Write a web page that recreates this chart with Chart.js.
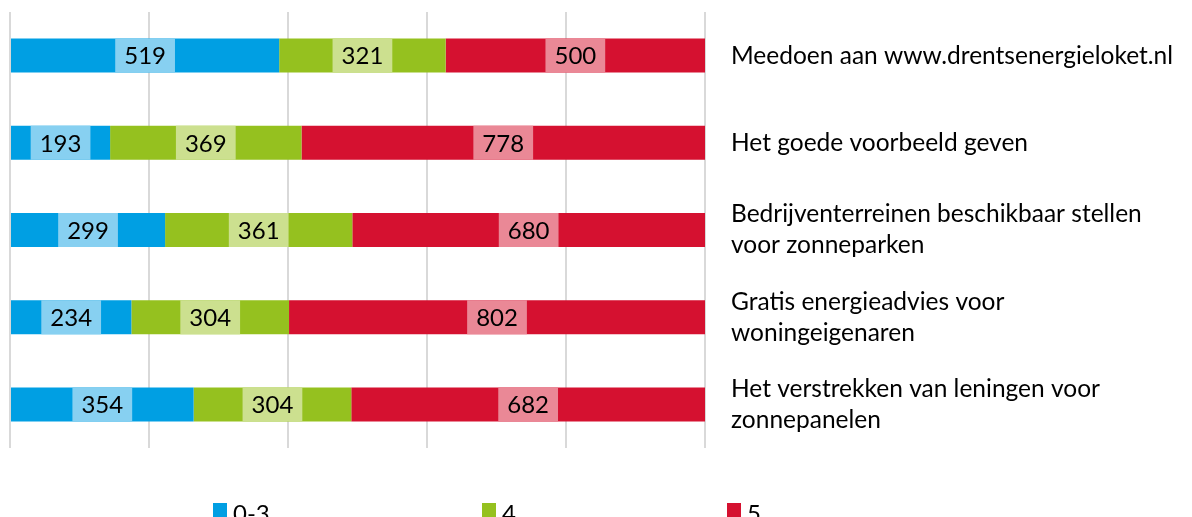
<!DOCTYPE html>
<html>
<head>
<meta charset="utf-8">
<script src="https://cdn.jsdelivr.net/npm/chart.js@4.4.1/dist/chart.umd.min.js"></script>
<style>
    html, body { margin: 0; padding: 0; background: #ffffff; }
    #wrap { width: 1192px; height: 517px; position: relative; }
</style>
</head>
<body>
<div id="wrap"><canvas id="barChart"></canvas></div>
<script>
// categorieën (regels per label)
const categories = [
    ['Meedoen aan www.drentsenergieloket.nl'],
    ['Het goede voorbeeld geven'],
    ['Bedrijventerreinen beschikbaar stellen', 'voor zonneparken'],
    ['Gratis energieadvies voor', 'woningeigenaren'],
    ['Het verstrekken van leningen voor', 'zonnepanelen']
];
const seriesNames = ['0-3', '4', '5'];
const score03 = [519, 193, 299, 234, 354];
const score4 = [321, 369, 361, 304, 304];
const score5 = [500, 778, 680, 802, 682];
const totalRespondents = 1340;

const barColors = ['#009FE3', '#95C11F', '#D51130'];
const labelBoxColors = ['#87D0F1', '#CCE08F', '#EA8896'];
const fontFamily = 'Lato, "Open Sans", sans-serif';

// waarde-labels met lichte achtergrond midden in elk segment
const valueLabels = {
    id: 'valueLabels',
    afterDatasetsDraw(chart) {
        const ctx = chart.ctx;
        ctx.save();
        ctx.font = '24px ' + fontFamily;
        ctx.textAlign = 'center';
        ctx.textBaseline = 'middle';
        chart.data.datasets.forEach((ds, di) => {
            const meta = chart.getDatasetMeta(di);
            meta.data.forEach((bar, i) => {
                const text = String(ds.data[i]);
                const cx = (bar.x + bar.base) / 2;
                const w = ctx.measureText(text).width + 18;
                const h = bar.height;
                ctx.fillStyle = labelBoxColors[di];
                ctx.fillRect(cx - w / 2, bar.y - h / 2, w, h);
                ctx.fillStyle = '#000000';
                ctx.fillText(text, cx, bar.y + 1);
            });
        });
        ctx.restore();
    }
};

// legenda onderaan, zoals in het origineel ver uit elkaar
const bottomLegend = {
    id: 'bottomLegend',
    afterDraw(chart) {
        const ctx = chart.ctx;
        const xs = [213, 482, 727];
        ctx.save();
        ctx.font = '24px ' + fontFamily;
        ctx.textBaseline = 'middle';
        ctx.textAlign = 'left';
        chart.data.datasets.forEach((ds, di) => {
            ctx.fillStyle = ds.backgroundColor;
            ctx.fillRect(xs[di], 503, 14, 14);
            ctx.fillStyle = '#000000';
            ctx.fillText(ds.label, xs[di] + 20, 514);
        });
        ctx.restore();
    }
};

const ctx = document.getElementById('barChart').getContext('2d');
new Chart(ctx, {
    type: 'bar',
    data: {
        labels: categories,
        datasets: [
            { label: seriesNames[0], data: score03, backgroundColor: barColors[0] },
            { label: seriesNames[1], data: score4, backgroundColor: barColors[1] },
            { label: seriesNames[2], data: score5, backgroundColor: barColors[2] }
        ]
    },
    options: {
        indexAxis: 'y',
        responsive: true,
        maintainAspectRatio: false,
        animation: false,
        layout: { padding: { top: 12, left: 10, bottom: 69, right: 0 } },
        datasets: {
            bar: { barPercentage: 0.39, categoryPercentage: 1 }
        },
        scales: {
            x: {
                stacked: true,
                min: 0,
                max: totalRespondents,
                ticks: { display: false, stepSize: totalRespondents / 5 },
                grid: { color: '#D9D9D9', lineWidth: 2, drawTicks: false },
                border: { display: false }
            },
            y: {
                stacked: true,
                position: 'right',
                grid: { display: false, drawTicks: false },
                border: { display: false },
                ticks: {
                    color: '#000000',
                    padding: 26,
                    crossAlign: 'near',
                    font: { family: fontFamily, size: 24.5, lineHeight: 1.27 }
                },
                afterFit(scale) {
                    scale.width = 487;
                    scale.paddingTop = 0;
                    scale.paddingBottom = 0;
                }
            }
        },
        plugins: {
            legend: { display: false },
            tooltip: { enabled: false }
        }
    },
    plugins: [valueLabels, bottomLegend]
});
</script>
</body>
</html>
